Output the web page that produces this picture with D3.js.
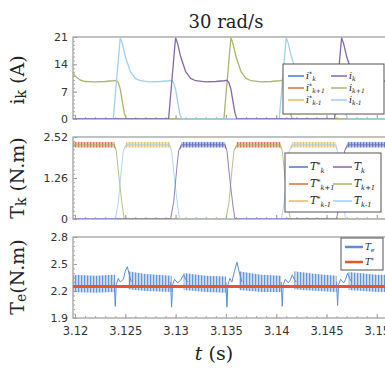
<!DOCTYPE html>
<html><head><meta charset="utf-8">
<script src="https://cdn.jsdelivr.net/npm/d3@7"></script>
<style>body{margin:0;background:#fff}svg{display:block}</style>
</head><body><svg id="c" width="385" height="369"></svg>
<script>
// ---------- data ----------
const xDomain = [3.1198, 3.1523];
const xTicks = [3.12, 3.125, 3.13, 3.135, 3.14, 3.145, 3.15];
const xTickLabels = ["3.12", "3.125", "3.13", "3.135", "3.14", "3.145", "3.15"];
const iTicks = [0, 7, 14, 21];
const tkTicks = [0, 1.26, 2.52];
const tkTickLabels = ["0", "1.26", "2.52"];
const teTicks = [1.9, 2.2, 2.5, 2.8];

// phase currents (A): [t, i]
const iKp1 = [[3.1198,11.8],[3.1200,11.0],[3.1205,10.0],[3.1210,9.6],[3.1220,9.5],[3.1230,9.6],[3.1238,9.8],[3.1241,9.9],[3.1243,9.3],[3.1245,7.6],[3.1247,4.5],[3.1249,1.5],[3.1251,0],
  [3.1348,0],[3.1351,9],[3.1354,18],[3.1355,20.8],[3.1357,19.3],[3.1360,16],[3.1365,12.1],[3.1370,10.4],[3.1375,9.8],[3.1385,9.5],[3.1395,9.6],[3.1403,9.8],[3.1406,9.9],[3.1408,9.3],[3.1410,7.6],[3.1412,4.5],[3.1414,1.5],[3.1416,0],[3.1523,0]];
const iKm1 = [[3.1198,0],[3.1238,0],[3.1241,9],[3.1244,18],[3.1245,20.8],[3.1247,19.3],[3.1250,16],[3.1255,12.1],[3.1260,10.4],[3.1265,9.8],[3.1275,9.5],[3.1285,9.6],[3.1293,9.8],[3.1296,9.9],[3.1298,9.3],[3.1300,7.6],[3.1302,4.5],[3.1304,1.5],[3.1306,0],
  [3.1403,0],[3.1406,9],[3.1409,18],[3.1410,20.8],[3.1412,19.3],[3.1415,16],[3.1420,12.1],[3.1425,10.4],[3.1430,9.8],[3.1440,9.5],[3.1450,9.6],[3.1458,9.8],[3.1461,9.9],[3.1463,9.3],[3.1465,7.6],[3.1467,4.5],[3.1469,1.5],[3.1471,0],[3.1523,0]];
const iK = [[3.1198,0],[3.1293,0],[3.1296,9],[3.1299,18],[3.1300,20.8],[3.1302,19.3],[3.1305,16],[3.1310,12.1],[3.1315,10.4],[3.1320,9.8],[3.1330,9.5],[3.1340,9.6],[3.1348,9.8],[3.1351,9.9],[3.1353,9.3],[3.1355,7.6],[3.1357,4.5],[3.1359,1.5],[3.1361,0],
  [3.1458,0],[3.1461,9],[3.1464,18],[3.1465,20.8],[3.1467,19.3],[3.1470,16],[3.1475,12.1],[3.1480,10.4],[3.1485,9.8],[3.1495,9.5],[3.1505,9.6],[3.1513,9.8],[3.1518,9.9],[3.1523,9.8]];

// phase torques (N.m): [t, T]
const tKp1 = [[3.1198,2.28],[3.1239,2.28],[3.1241,2.1],[3.1244,1.2],[3.1247,0.4],[3.1249,0],[3.1350,0],[3.1353,0.5],[3.1356,1.5],[3.1358,2.1],[3.1361,2.28],[3.1404,2.28],[3.1406,2.1],[3.1409,1.2],[3.1412,0.4],[3.1414,0],[3.1523,0]];
const tKm1 = [[3.1198,0],[3.1240,0],[3.1243,0.5],[3.1246,1.5],[3.1248,2.1],[3.1251,2.28],[3.1294,2.28],[3.1296,2.1],[3.1299,1.2],[3.1302,0.4],[3.1304,0],[3.1405,0],[3.1408,0.5],[3.1411,1.5],[3.1413,2.1],[3.1416,2.28],[3.1459,2.28],[3.1461,2.1],[3.1464,1.2],[3.1467,0.4],[3.1469,0],[3.1523,0]];
const tK = [[3.1198,0],[3.1295,0],[3.1298,0.5],[3.1301,1.5],[3.1303,2.1],[3.1306,2.28],[3.1349,2.28],[3.1351,2.1],[3.1354,1.2],[3.1357,0.4],[3.1359,0],[3.1460,0],[3.1463,0.5],[3.1466,1.5],[3.1468,2.1],[3.1471,2.28],[3.1523,2.28]];

// reference torques with ripple band: [t, low, high]
const tsKp1 = [[3.1198,2.20,2.37],[3.1239,2.20,2.37],[3.1241,2.1,2.1],[3.1244,1.2,1.2],[3.1247,0.4,0.4],[3.1249,0,0.015],[3.1350,0,0.015],[3.1353,0.5,0.5],[3.1356,1.5,1.5],[3.1358,2.1,2.1],[3.1361,2.20,2.37],[3.1404,2.20,2.37],[3.1406,2.1,2.1],[3.1409,1.2,1.2],[3.1412,0.4,0.4],[3.1414,0,0.015],[3.1523,0,0.015]];
const tsKm1 = [[3.1198,0,0.015],[3.1240,0,0.015],[3.1243,0.5,0.5],[3.1246,1.5,1.5],[3.1248,2.1,2.1],[3.1251,2.20,2.37],[3.1294,2.20,2.37],[3.1296,2.1,2.1],[3.1299,1.2,1.2],[3.1302,0.4,0.4],[3.1304,0,0.015],[3.1405,0,0.015],[3.1408,0.5,0.5],[3.1411,1.5,1.5],[3.1413,2.1,2.1],[3.1416,2.20,2.37],[3.1459,2.20,2.37],[3.1461,2.1,2.1],[3.1464,1.2,1.2],[3.1467,0.4,0.4],[3.1469,0,0.015],[3.1523,0,0.015]];
const tsK = [[3.1198,0,0.015],[3.1295,0,0.015],[3.1298,0.5,0.5],[3.1301,1.5,1.5],[3.1303,2.1,2.1],[3.1306,2.20,2.37],[3.1349,2.20,2.37],[3.1351,2.1,2.1],[3.1354,1.2,1.2],[3.1357,0.4,0.4],[3.1359,0,0.015],[3.1460,0,0.015],[3.1463,0.5,0.5],[3.1466,1.5,1.5],[3.1468,2.1,2.1],[3.1471,2.20,2.37],[3.1523,2.20,2.37]];

// total torque ripple band segments: [t, low, high]
const teBand = [
  [[3.1198,2.19,2.38],[3.1220,2.18,2.37],[3.1240,2.19,2.38]],
  [[3.1253,2.22,2.42],[3.1270,2.20,2.39],[3.1296,2.19,2.37]],
  [[3.1308,2.21,2.40],[3.1330,2.19,2.37],[3.1350,2.18,2.36]],
  [[3.1363,2.21,2.42],[3.1385,2.19,2.38],[3.1405,2.19,2.37]],
  [[3.1418,2.22,2.42],[3.1440,2.20,2.39],[3.1460,2.19,2.37]],
  [[3.1472,2.21,2.41],[3.1500,2.19,2.38],[3.1523,2.19,2.38]]
];
// commutation transients of total torque: [t, Te]
const teSpikes = [
  [[3.1239,2.30],[3.1240,2.03],[3.1241,2.27],[3.1243,2.34],[3.1245,2.30],[3.1248,2.33],[3.1250,2.42],[3.1252,2.47],[3.1254,2.38],[3.1256,2.30]],
  [[3.1295,2.30],[3.1296,2.02],[3.1297,2.27],[3.1299,2.33],[3.1302,2.29],[3.1305,2.32],[3.1308,2.38],[3.1310,2.33],[3.1312,2.30]],
  [[3.1350,2.30],[3.1351,2.02],[3.1352,2.27],[3.1354,2.34],[3.1356,2.30],[3.1358,2.40],[3.1361,2.52],[3.1363,2.42],[3.1366,2.30]],
  [[3.1405,2.30],[3.1406,2.03],[3.1407,2.27],[3.1409,2.33],[3.1412,2.29],[3.1414,2.32],[3.1416,2.38],[3.1418,2.33],[3.1420,2.30]],
  [[3.1460,2.30],[3.1461,2.04],[3.1462,2.27],[3.1464,2.33],[3.1467,2.29],[3.1469,2.33],[3.1471,2.40],[3.1473,2.34],[3.1475,2.30]]
];
const teRef = [[3.1198,2.25],[3.1523,2.25]];

// ---------- drawing ----------
const svg = d3.select("#c");
const X0 = 73, X1 = 73 + (xDomain[1]-xDomain[0])*10060;
const x = d3.scaleLinear().domain(xDomain).range([X0, X1]);
const y1 = d3.scaleLinear().domain([0,21]).range([119,37]);
const y2 = d3.scaleLinear().domain([0,2.52]).range([219,137]);
const y3 = d3.scaleLinear().domain([1.9,2.8]).range([318,237]);

const C = {
  blue:"#4a78cc", orange:"#de6a3c", yellow:"#e8bd5a",
  purple:"#8468b0", green:"#a8b86c", cyan:"#a2cff0",
  teBlue:"#5a8fd3", red:"#e2582a"
};

const defs = svg.append("defs");
function stripe(id, col, op){
  const p = defs.append("pattern").attr("id",id).attr("patternUnits","userSpaceOnUse")
    .attr("width",3).attr("height",8);
  p.append("rect").attr("width",3).attr("height",8).attr("fill",col).attr("opacity",op);
  p.append("rect").attr("width",1.2).attr("height",8).attr("fill",col).attr("opacity",0.9);
}
stripe("pBlue", C.blue, 0.4);
stripe("pOrange", C.orange, 0.4);
stripe("pYellow", C.yellow, 0.4);
stripe("pTe", C.teBlue, 0.3);

const panels = [
  {top:37, bot:119},
  {top:137, bot:219},
  {top:237, bot:318}
];
panels.forEach((p,i)=>{
  defs.append("clipPath").attr("id","clip"+i).append("rect")
    .attr("x",X0).attr("y",p.top).attr("width",X1-X0).attr("height",p.bot-p.top);
});

function lineOf(ys){ return d3.line().x(d=>x(d[0])).y(d=>ys(d[1])); }
function areaOf(ys){ return d3.area().x(d=>x(d[0])).y0(d=>ys(d[1])).y1(d=>ys(d[2])); }

function axes(ys, ticks, labels, minor, withX){
  const g = svg.append("g");
  g.append("rect").attr("x",X0).attr("y",ys.range()[1]).attr("width",X1-X0)
    .attr("height",ys.range()[0]-ys.range()[1]).attr("fill","none").attr("stroke","#999").attr("stroke-width",1.2);
  const ax = g.append("g").attr("transform",`translate(${X0},0)`)
    .call(d3.axisLeft(ys).tickValues(ticks).tickSize(-4).tickPadding(5)
      .tickFormat((d,i)=>labels ? labels[i] : d3.format("")(d)));
  ax.select(".domain").remove();
  ax.selectAll("line").attr("stroke","#999");
  ax.selectAll("text").attr("font-family","DejaVu Sans").attr("font-size",11).attr("fill","#333");
  const mn = g.append("g").attr("transform",`translate(${X0},0)`)
    .call(d3.axisLeft(ys).tickValues(minor).tickSize(-2).tickFormat(""));
  mn.select(".domain").remove();
  mn.selectAll("line").attr("stroke","#aaa");
  const xb = g.append("g").attr("transform",`translate(0,${ys.range()[0]})`)
    .call(d3.axisBottom(x).tickValues(xTicks).tickSize(-4).tickPadding(9)
      .tickFormat((d,i)=> withX ? xTickLabels[i] : ""));
  xb.select(".domain").remove();
  xb.selectAll("line").attr("stroke","#999");
  xb.selectAll("text").attr("font-family","DejaVu Sans").attr("font-size",11.5).attr("fill","#333");
  const xm = g.append("g").attr("transform",`translate(0,${ys.range()[0]})`)
    .call(d3.axisBottom(x).tickValues(d3.range(0,33).map(k=>3.12+k*0.001)).tickSize(-2).tickFormat(""));
  xm.select(".domain").remove();
  xm.selectAll("line").attr("stroke","#aaa");
}

// Panel 1
axes(y1, iTicks, null, d3.range(0,22,1), false);
const g1 = svg.append("g").attr("clip-path","url(#clip0)");
[[iKp1,C.green],[iKm1,C.cyan],[iK,C.purple]].forEach(([d,c])=>{
  g1.append("path").datum(d).attr("d",lineOf(y1)).attr("fill","none").attr("stroke",c).attr("stroke-width",1.3);
});

// Panel 2
axes(y2, tkTicks, tkTickLabels, d3.range(0,2.53,0.126), false);
const g2 = svg.append("g").attr("clip-path","url(#clip1)");
[[tsKp1,"pOrange"],[tsKm1,"pYellow"],[tsK,"pBlue"]].forEach(([d,p])=>{
  g2.append("path").datum(d).attr("d",areaOf(y2)).attr("fill",`url(#${p})`);
});
[[tKp1,C.green],[tKm1,C.cyan],[tK,C.purple]].forEach(([d,c])=>{
  g2.append("path").datum(d).attr("d",lineOf(y2)).attr("fill","none").attr("stroke",c).attr("stroke-width",1).attr("opacity",0.85);
});

// Panel 3
axes(y3, teTicks, null, d3.range(1.9,2.81,0.05), true);
const g3 = svg.append("g").attr("clip-path","url(#clip2)");
teBand.forEach(seg=>{
  g3.append("path").datum(seg).attr("d",areaOf(y3)).attr("fill","url(#pTe)");
});
teSpikes.forEach(seg=>{
  g3.append("path").datum(seg).attr("d",lineOf(y3)).attr("fill","none").attr("stroke",C.teBlue).attr("stroke-width",1);
});
g3.append("path").datum(teRef).attr("d",lineOf(y3)).attr("fill","none").attr("stroke",C.red).attr("stroke-width",3.2);

// ---------- legends ----------
function legendLabel(g, base, star, sub, xx, yy, fs){
  const t = g.append("text").attr("x",xx).attr("y",yy).attr("font-family","DejaVu Serif")
    .attr("font-style","italic").attr("font-size",fs).attr("fill","#222");
  t.append("tspan").text(base);
  if(star) t.append("tspan").attr("dy",-fs*0.3).attr("font-size",fs*0.65).text("*");
  if(sub) t.append("tspan").attr("dy", star ? fs*0.55 : fs*0.25).attr("font-size",fs*0.65).text(sub);
}
function legend(box, items, fs){
  const g = svg.append("g");
  g.append("rect").attr("x",box.x).attr("y",box.y).attr("width",box.w).attr("height",box.h)
    .attr("fill","#fff").attr("stroke","#555").attr("stroke-width",1);
  items.forEach(it=>{
    g.append("line").attr("x1",it.lx).attr("x2",it.lx+it.lw).attr("y1",it.y).attr("y2",it.y)
      .attr("stroke",it.c).attr("stroke-width",it.sw||1.5);
    legendLabel(g, it.base, it.star, it.sub, it.lx+it.lw+2, it.y+fs*0.3, fs);
  });
}
legend({x:283,y:64,w:101,h:50}, [
  {lx:288,lw:16,y:76,c:C.blue,base:"i",star:true,sub:"k"},
  {lx:288,lw:16,y:88,c:C.orange,base:"i",star:true,sub:"k+1"},
  {lx:288,lw:16,y:100,c:C.yellow,base:"i",star:true,sub:"k-1"},
  {lx:331,lw:16,y:76,c:C.purple,base:"i",star:false,sub:"k"},
  {lx:331,lw:16,y:88,c:C.green,base:"i",star:false,sub:"k+1"},
  {lx:331,lw:16,y:100,c:C.cyan,base:"i",star:false,sub:"k-1"}
], 9.5);
legend({x:285,y:153,w:96,h:59}, [
  {lx:289,lw:19,y:167,c:C.blue,base:"T",star:true,sub:"k"},
  {lx:289,lw:19,y:184,c:C.orange,base:"T",star:true,sub:"k+1"},
  {lx:289,lw:19,y:201,c:C.yellow,base:"T",star:true,sub:"k-1"},
  {lx:333,lw:19,y:167,c:C.purple,base:"T",star:false,sub:"k"},
  {lx:333,lw:19,y:184,c:C.green,base:"T",star:false,sub:"k+1"},
  {lx:333,lw:19,y:201,c:C.cyan,base:"T",star:false,sub:"k-1"}
], 10.5);
legend({x:341,y:238,w:42,h:32}, [
  {lx:345,lw:18,y:247,c:C.teBlue,sw:2.5,base:"T",star:false,sub:"e"},
  {lx:345,lw:18,y:262,c:C.red,sw:2.5,base:"T",star:true,sub:""}
], 9);

// ---------- titles ----------
svg.append("text").attr("x",226).attr("y",28).attr("text-anchor","middle")
  .attr("font-family","DejaVu Serif").attr("font-size",18).attr("fill","#222").text("30 rad/s");
function ylab(cy, base, sub, rest){
  const t = svg.append("text").attr("transform",`translate(24,${cy}) rotate(-90)`)
    .attr("text-anchor","middle").attr("font-family","DejaVu Serif").attr("font-size",19).attr("fill","#222");
  t.append("tspan").text(base);
  t.append("tspan").attr("font-size",14).attr("dy",2).text(sub);
  t.append("tspan").attr("dy",-2).text(rest);
}
ylab(80, "i", "k", " (A)");
ylab(178, "T", "k", " (N.m)");
ylab(277, "T", "e", "(N.m)");
const xl = svg.append("text").attr("x",214).attr("y",360).attr("text-anchor","middle")
  .attr("font-family","DejaVu Serif").attr("font-size",19).attr("fill","#222");
xl.append("tspan").attr("font-style","italic").text("t");
xl.append("tspan").text(" (s)");
</script></body></html>
